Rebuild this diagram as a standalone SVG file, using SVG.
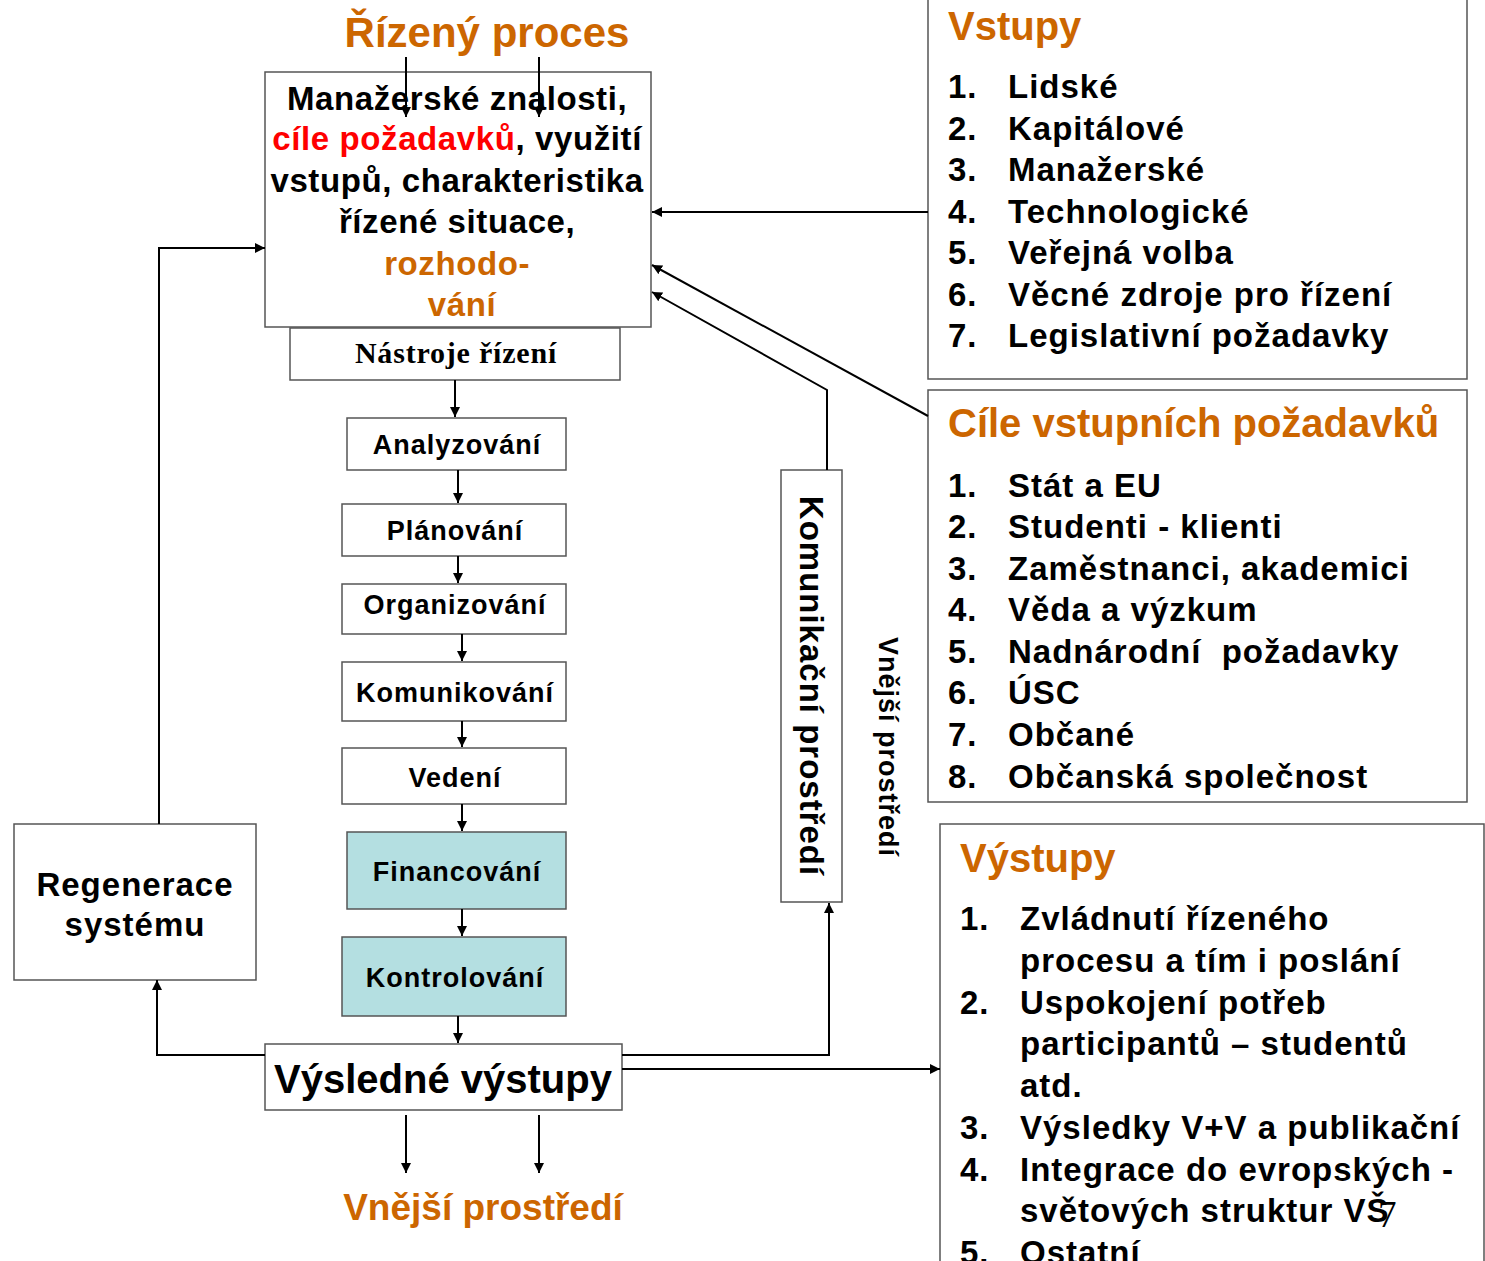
<svg xmlns="http://www.w3.org/2000/svg" width="1485" height="1261" viewBox="0 0 1485 1261">
<defs>
<style>
.box{fill:#fff;stroke:#555;stroke-width:1.5}
.teal{fill:#B4DFE1;stroke:#555;stroke-width:1.5}
.t{font-family:"Liberation Sans",Arial,sans-serif;font-weight:bold;fill:#000}
.or{fill:#CC6600}
.red{fill:#FF0000}
.c{text-anchor:middle}
.item{font-size:33px;letter-spacing:1px}
.step{font-size:27px;letter-spacing:1px}
.ln{fill:none;stroke:#000;stroke-width:2}
</style>
<marker id="ah" viewBox="0 0 10 10" refX="10" refY="5" markerWidth="10" markerHeight="10" markerUnits="userSpaceOnUse" orient="auto">
<path d="M0,0 L10,5 L0,10 z" fill="#000"/>
</marker>
</defs>

<g id="title-top">
<text class="t or c" x="487" y="47" font-size="42">Řízený proces</text>
</g>

<g id="main">
<rect class="box" x="265" y="72" width="386" height="255"/>
<text class="t c" font-size="33" letter-spacing="0.6">
<tspan x="462" y="110">Manažerské znalosti,</tspan>
<tspan x="462" y="150"><tspan class="red">cíle požadavků</tspan>, využití</tspan>
<tspan x="462" y="192">vstupů, charakteristika</tspan>
<tspan x="462" y="233">řízené situace,</tspan>
<tspan x="462" y="275" class="or">rozhodo-</tspan>
<tspan x="462" y="316" class="or">vání</tspan>
</text>
</g>

<g id="nastroje">
<rect class="box" x="290" y="328" width="330" height="52"/>
<text x="456" y="363" font-family="Liberation Serif,serif" font-weight="bold" font-size="30" letter-spacing="0.8" text-anchor="middle">Nástroje řízení</text>
</g>

<g id="analyzovani">
<rect class="box" x="347" y="418" width="219" height="52"/>
<text class="t c step" x="457" y="454">Analyzování</text>
</g>
<g id="planovani">
<rect class="box" x="342" y="504" width="224" height="52"/>
<text class="t c step" x="455" y="540">Plánování</text>
</g>
<g id="organizovani">
<rect class="box" x="342" y="584" width="224" height="50"/>
<text class="t c step" x="455" y="614">Organizování</text>
</g>
<g id="komunikovani">
<rect class="box" x="342" y="662" width="224" height="59"/>
<text class="t c step" x="455" y="702">Komunikování</text>
</g>
<g id="vedeni">
<rect class="box" x="342" y="748" width="224" height="56"/>
<text class="t c step" x="455" y="787">Vedení</text>
</g>
<g id="financovani">
<rect class="teal" x="347" y="832" width="219" height="77"/>
<text class="t c step" x="457" y="881">Financování</text>
</g>
<g id="kontrolovani">
<rect class="teal" x="342" y="937" width="224" height="79"/>
<text class="t c step" x="455" y="987">Kontrolování</text>
</g>

<g id="vysledne">
<rect class="box" x="265" y="1044" width="357" height="66"/>
<text class="t c" x="443" y="1093" font-size="40">Výsledné výstupy</text>
</g>

<g id="regenerace">
<rect class="box" x="14" y="824" width="242" height="156"/>
<text class="t c" font-size="33" letter-spacing="1"><tspan x="135" y="896">Regenerace</tspan><tspan x="135" y="936">systému</tspan></text>
</g>

<g id="komunikacni">
<rect class="box" x="781" y="470" width="61" height="432"/>
<text class="t c" x="811" y="686" font-size="33" letter-spacing="1" dominant-baseline="central" transform="rotate(90 811 686)">Komunikační prostředí</text>
</g>

<g id="vnejsi-side">
<text class="t c" x="888" y="747" font-size="27" letter-spacing="1" dominant-baseline="central" transform="rotate(90 888 747)">Vnější prostředí</text>
</g>

<g id="vnejsi-bottom">
<text class="t or c" x="483" y="1220" font-size="37">Vnější prostředí</text>
</g>

<g id="vstupy">
<rect class="box" x="928" y="-2" width="539" height="381"/>
<text class="t or" x="948" y="40" font-size="40">Vstupy</text>
<g class="t item">
<text x="948" y="98">1.</text><text x="1008" y="98">Lidské</text>
<text x="948" y="140">2.</text><text x="1008" y="140">Kapitálové</text>
<text x="948" y="181">3.</text><text x="1008" y="181">Manažerské</text>
<text x="948" y="223">4.</text><text x="1008" y="223">Technologické</text>
<text x="948" y="264">5.</text><text x="1008" y="264">Veřejná volba</text>
<text x="948" y="306">6.</text><text x="1008" y="306">Věcné zdroje pro řízení</text>
<text x="948" y="347">7.</text><text x="1008" y="347">Legislativní požadavky</text>
</g>
</g>

<g id="cile">
<rect class="box" x="928" y="390" width="539" height="412"/>
<text class="t or" x="948" y="437" font-size="40">Cíle vstupních požadavků</text>
<g class="t item">
<text x="948" y="497">1.</text><text x="1008" y="497">Stát a EU</text>
<text x="948" y="538">2.</text><text x="1008" y="538">Studenti - klienti</text>
<text x="948" y="580">3.</text><text x="1008" y="580">Zaměstnanci, akademici</text>
<text x="948" y="621">4.</text><text x="1008" y="621">Věda a výzkum</text>
<text x="948" y="663">5.</text><text x="1008" y="663" xml:space="preserve">Nadnárodní  požadavky</text>
<text x="948" y="704">6.</text><text x="1008" y="704">ÚSC</text>
<text x="948" y="746">7.</text><text x="1008" y="746">Občané</text>
<text x="948" y="788">8.</text><text x="1008" y="788">Občanská společnost</text>
</g>
</g>

<g id="vystupy">
<rect class="box" x="940" y="824" width="544" height="440"/>
<text class="t or" x="960" y="872" font-size="40">Výstupy</text>
<g class="t item">
<text x="960" y="930">1.</text><text x="1020" y="930">Zvládnutí řízeného</text>
<text x="1020" y="972">procesu a tím i poslání</text>
<text x="960" y="1014">2.</text><text x="1020" y="1014">Uspokojení potřeb</text>
<text x="1020" y="1055">participantů – studentů</text>
<text x="1020" y="1097">atd.</text>
<text x="960" y="1139">3.</text><text x="1020" y="1139">Výsledky V+V a publikační</text>
<text x="960" y="1181">4.</text><text x="1020" y="1181">Integrace do evropských -</text>
<text x="1020" y="1222">světových struktur VŠ</text>
<text x="960" y="1264">5.</text><text x="1020" y="1264">Ostatní</text>
</g>
<text x="1378" y="1227" font-family="Liberation Serif,serif" font-size="37" fill="#000">7</text>
</g>

<g id="connectors">
<line class="ln" x1="406" y1="57" x2="406" y2="117" marker-end="url(#ah)"/>
<line class="ln" x1="539" y1="57" x2="539" y2="117" marker-end="url(#ah)"/>
<line class="ln" x1="455" y1="380" x2="455" y2="417" marker-end="url(#ah)"/>
<line class="ln" x1="458" y1="470" x2="458" y2="503" marker-end="url(#ah)"/>
<line class="ln" x1="458" y1="556" x2="458" y2="583" marker-end="url(#ah)"/>
<line class="ln" x1="462" y1="634" x2="462" y2="661" marker-end="url(#ah)"/>
<line class="ln" x1="462" y1="721" x2="462" y2="747" marker-end="url(#ah)"/>
<line class="ln" x1="462" y1="804" x2="462" y2="831" marker-end="url(#ah)"/>
<line class="ln" x1="462" y1="909" x2="462" y2="936" marker-end="url(#ah)"/>
<line class="ln" x1="458" y1="1016" x2="458" y2="1043" marker-end="url(#ah)"/>
<polyline class="ln" points="159,824 159,248 265,248" marker-end="url(#ah)"/>
<polyline class="ln" points="265,1055 157,1055 157,980" marker-end="url(#ah)"/>
<polyline class="ln" points="622,1055 829,1055 829,903" marker-end="url(#ah)"/>
<line class="ln" x1="622" y1="1069" x2="940" y2="1069" marker-end="url(#ah)"/>
<polyline class="ln" points="827,470 827,390 652,292" marker-end="url(#ah)"/>
<line class="ln" x1="928" y1="212" x2="652" y2="212" marker-end="url(#ah)"/>
<line class="ln" x1="928" y1="416" x2="652" y2="265" marker-end="url(#ah)"/>
<line class="ln" x1="406" y1="1115" x2="406" y2="1173" marker-end="url(#ah)"/>
<line class="ln" x1="539" y1="1115" x2="539" y2="1173" marker-end="url(#ah)"/>
</g>
</svg>
